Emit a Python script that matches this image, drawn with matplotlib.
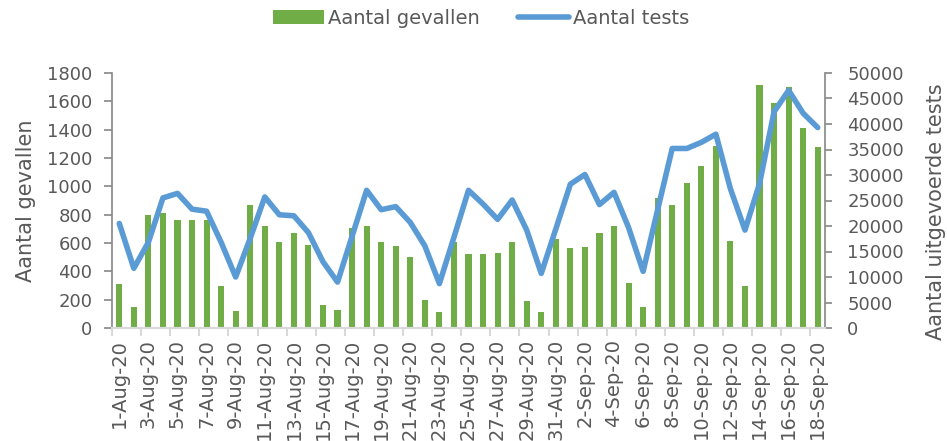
import matplotlib
matplotlib.use("Agg")
import matplotlib.pyplot as plt
import numpy as np
import pandas as pd

# daily data, 1 Aug 2020 - 18 Sep 2020
dates = pd.date_range("2020-08-01", "2020-09-18", freq="D")
labels = [f"{d.day}-{d.strftime('%b-%y')}" for d in dates]

cases = [310, 150, 795, 810, 765, 765, 765, 300, 120, 871,
         717, 606, 668, 585, 159, 130, 703, 722, 609, 580,
         504, 199, 112, 604, 523, 523, 530, 609, 194, 111,
         628,
         564, 571, 672, 722, 320, 149, 916, 869, 1021,
         1141, 1283, 616, 296, 1717, 1591, 1700, 1409, 1281]

tests = [20500, 11700, 16800, 25500, 26400, 23300, 22900, 16800, 10000, 17600,
         25700, 22200, 22000, 18700, 13000, 9000, 18000, 27000, 23200, 23800,
         20700, 16100, 8700, 17800, 27000, 24300, 21300, 25100, 19200, 10700,
         19400,
         28200, 30100, 24200, 26600, 19700, 11100, 23200, 35200, 35200, 36400,
         38000, 27300, 19200, 28300, 42400, 46600, 42100, 39300]

green = "#70AD47"
blue = "#5B9BD5"
txt = "#595959"
x = np.arange(len(cases))

plt.rcParams['font.family'] = ['DejaVu Sans']

fig = plt.figure(figsize=(9.47, 4.41), dpi=100)
ax = fig.add_axes([112/947, 113/441, (825-112)/947, (328-73)/441])
ax2 = ax.twinx()

ax.bar(x, cases, width=0.42, color=green, label="Aantal gevallen")
ax2.plot(x, tests, color=blue, linewidth=4, solid_joinstyle='round',
         solid_capstyle='round', label="Aantal tests")

ax.set_xlim(-0.5, len(cases) - 0.5)
ax.set_ylim(0, 1800)
ax.set_yticks(np.arange(0, 1801, 200))
ax2.set_ylim(0, 50000)
ax2.set_yticks(np.arange(0, 50001, 5000))

ax.set_xticks(x[::2])
ax.set_xticklabels(labels[::2], rotation=90)
ax.set_xticks(np.arange(-0.5, len(cases), 2), minor=True)
ax.tick_params(axis='x', which='major', length=0, pad=8, labelsize=14, labelcolor=txt)
ax.tick_params(axis='x', which='minor', length=6, color="#D9D9D9", width=1.5)

for a in (ax, ax2):
    a.spines['top'].set_visible(False)
    a.spines['bottom'].set_color("#D9D9D9")
    a.spines['bottom'].set_linewidth(1.5)
    a.spines['left'].set_color("#868686")
    a.spines['right'].set_color("#868686")
    a.spines['left'].set_linewidth(1.2)
    a.spines['right'].set_linewidth(1.2)
ax.spines['right'].set_visible(False)
ax2.spines['left'].set_visible(False)

ax.tick_params(axis='y', length=6, color="#868686", width=1.2, labelsize=13, labelcolor=txt, pad=8)
ax2.tick_params(axis='y', length=5, color="#868686", width=1.2, labelsize=13, labelcolor=txt, pad=11)

ax.set_ylabel("Aantal gevallen", fontsize=15, color=txt, labelpad=8)
ax2.set_ylabel("Aantal uitgevoerde tests", fontsize=15, color=txt)
ax2.yaxis.set_label_coords(1.141, 0.455)

h1, l1 = ax.get_legend_handles_labels()
h2, l2 = ax2.get_legend_handles_labels()
fig.legend(h1 + h2, l1 + l2, loc="upper center", bbox_to_anchor=(0.508, 1.02),
           ncol=2, frameon=False, fontsize=14, labelcolor=txt,
           handlelength=2.6, handletextpad=0.2, columnspacing=2.0)

fig.savefig("out.png", dpi=100)
